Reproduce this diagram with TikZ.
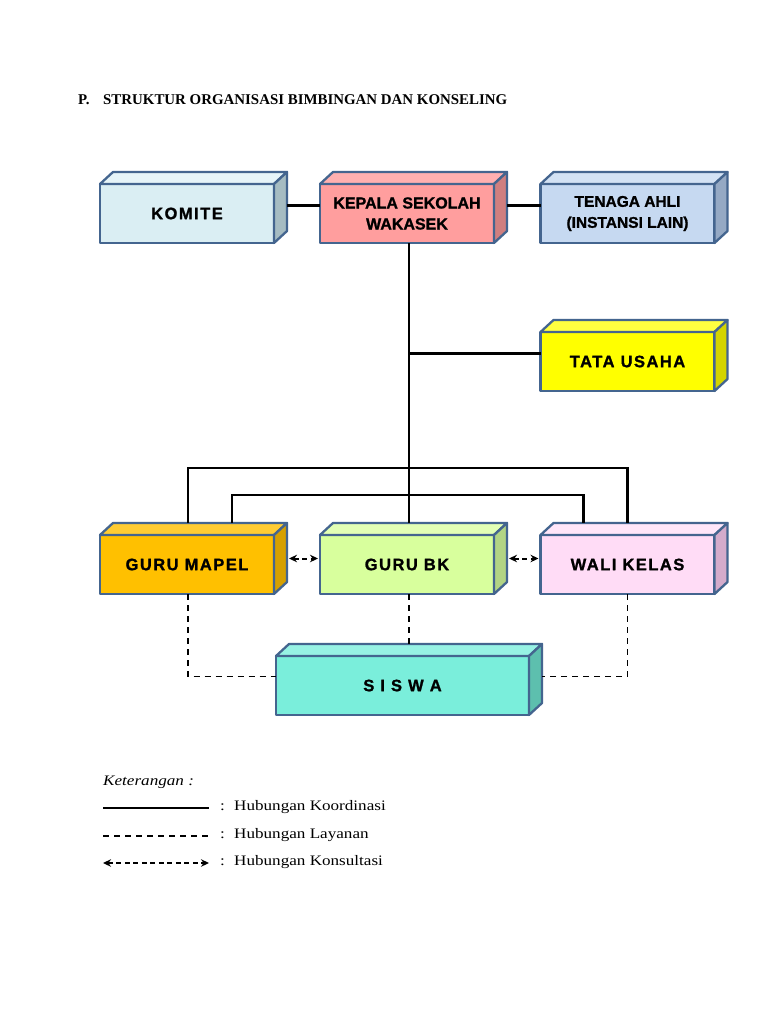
\documentclass[tikz,border=0pt]{standalone}
\usepackage{fontspec}
\setmainfont{Liberation Serif}
\newfontfamily\boxfont[LetterSpace=9,BoldFeatures={FakeBold=1.2}]{Liberation Sans}
\newfontfamily\boxfontn[BoldFeatures={FakeBold=1.2}]{Liberation Sans}
\newfontfamily\legfont[FakeStretch=1.18]{Liberation Serif}
\usetikzlibrary{arrows.meta,calc}
\definecolor{boxedge}{HTML}{44658F}
\definecolor{komF}{HTML}{DAEEF3}\definecolor{komT}{HTML}{E6F4F8}\definecolor{komS}{HTML}{A6BCC2}
\definecolor{kepF}{HTML}{FF9E9E}\definecolor{kepT}{HTML}{FFB0B0}\definecolor{kepS}{HTML}{D07F7F}
\definecolor{tenF}{HTML}{C6D9F1}\definecolor{tenT}{HTML}{D3E2F4}\definecolor{tenS}{HTML}{95A9C4}
\definecolor{tatF}{HTML}{FFFF00}\definecolor{tatT}{HTML}{FFFF40}\definecolor{tatS}{HTML}{D4D400}
\definecolor{mapF}{HTML}{FFC000}\definecolor{mapT}{HTML}{FFCC33}\definecolor{mapS}{HTML}{D6A000}
\definecolor{bkF}{HTML}{D8FF9D}\definecolor{bkT}{HTML}{E2FFB5}\definecolor{bkS}{HTML}{B2D484}
\definecolor{walF}{HTML}{FFDCF6}\definecolor{walT}{HTML}{FFE6F9}\definecolor{walS}{HTML}{D4ABCB}
\definecolor{sisF}{HTML}{7AEEDB}\definecolor{sisT}{HTML}{97F2E4}\definecolor{sisS}{HTML}{5DBFAE}
\tikzset{
  cubeedge/.style={draw=boxedge, line width=2.3pt, line join=round},
  cube/.style={cubeedge, minimum width=174pt, minimum height=59pt, inner sep=0pt, outer sep=0pt,
    align=center, font={\boxfont\bfseries\fontsize{16.5}{21}\selectfont}},
  cuben/.style={cube, font={\boxfontn\bfseries\fontsize{16}{21}\selectfont}},
  coord/.style={draw=black, line width=2.4pt},
  layan/.style={draw=black, line width=1.9pt, dash pattern=on 6pt off 5pt},
  konsul/.style={draw=black, line width=2pt, dash pattern=on 5pt off 3.5pt,
    {Stealth[length=8pt,width=7.5pt]}-{Stealth[length=8pt,width=7.5pt]}},
  legtext/.style={anchor=base west, inner sep=0pt, font={\legfont\fontsize{14.5}{17}\selectfont}},
}
\newcommand\cubefaces[3]{%
  \filldraw[cubeedge,fill=#2] (#1.north west) -- ++(13,-12) -- ([shift={(13,-12)}]#1.north east) -- (#1.north east) -- cycle;
  \filldraw[cubeedge,fill=#3] (#1.north east) -- ([shift={(13,-12)}]#1.north east) -- ([shift={(13,-12)}]#1.south east) -- (#1.south east) -- cycle;}
\begin{document}
\begin{tikzpicture}[x=1pt,y=-1pt]
\useasboundingbox (0,0) rectangle (768,1024);
\fill[white] (0,0) rectangle (768,1024);
% title
\node[anchor=base west, inner sep=0pt, font={\bfseries\fontsize{14.9}{17}\selectfont}] (tp) at (78,105) {P.};
\node[anchor=base west, inner sep=0pt, font={\bfseries\fontsize{14.9}{17}\selectfont}] (tt) at (103,105) {STRUKTUR ORGANISASI BIMBINGAN DAN KONSELING};
% boxes
\node[cube, fill=komF] (komite) at (187,213.5) {KOMITE};
\cubefaces{komite}{komT}{komS}
\node[cuben, fill=kepF] (kepala) at (407,213.5) {KEPALA SEKOLAH\\WAKASEK};
\cubefaces{kepala}{kepT}{kepS}
\node[cuben, fill=tenF, font={\boxfontn\bfseries\fontsize{15.5}{21}\selectfont}] (tenaga) at (627.5,213.5) {TENAGA AHLI\\(INSTANSI LAIN)};
\cubefaces{tenaga}{tenT}{tenS}
\node[cube, fill=tatF] (tata) at (627.5,361.5) {TATA USAHA};
\cubefaces{tata}{tatT}{tatS}
\node[cube, fill=mapF] (gurumapel) at (187,564.5) {GURU MAPEL};
\cubefaces{gurumapel}{mapT}{mapS}
\node[cube, fill=bkF] (gurubk) at (407,564.5) {GURU BK};
\cubefaces{gurubk}{bkT}{bkS}
\node[cube, fill=walF] (walikelas) at (627.5,564.5) {WALI KELAS};
\cubefaces{walikelas}{walT}{walS}
\node[cube, fill=sisF, minimum width=253pt] (siswa) at (402.5,685.5) {S I S W A};
\cubefaces{siswa}{sisT}{sisS}
% coordination lines
\coordinate (ks) at ([shift={(13,-8)}]komite.east);
\draw[coord] (ks) -- (ks -| kepala.west);
\coordinate (kps) at ([shift={(13,-8)}]kepala.east);
\draw[coord] (kps) -- (kps -| tenaga.west);
\coordinate (bkt) at ([shift={(2,-12)}]gurubk.north);
\draw[coord] ([shift={(2,0)}]kepala.south) -- (bkt);
\coordinate (ts) at ([shift={(0,-8)}]tata.west);
\draw[coord] (ts -| bkt) -- (ts);
\draw[coord] ([shift={(1,-12)}]gurumapel.north) -- ++(0,-55) -| ([shift={(0,-12)}]walikelas.north);
\draw[coord] ([shift={(45,-12)}]gurumapel.north) -- ++(0,-28) -| ([shift={(-44,-12)}]walikelas.north);
% service lines
\coordinate (sl) at ([shift={(0,-9)}]siswa.west);
\coordinate (sr) at ([shift={(13,-9)}]siswa.east);
\coordinate (st) at ([shift={(0,-12)}]siswa.north);
\draw[layan] ([shift={(1,0)}]gurumapel.south) |- (sl);
\draw[layan] (walikelas.south) |- (sr);
\draw[layan] ([shift={(2,0)}]gurubk.south) -- ([shift={(2,0)}]gurubk.south |- st);
% consultation arrows
\coordinate (a1) at ([shift={(15,-6)}]gurumapel.east);
\draw[konsul, shorten >=2pt] (a1) -- (a1 -| gurubk.west);
\coordinate (a2) at ([shift={(15,-6)}]gurubk.east);
\draw[konsul, shorten >=2pt] (a2) -- (a2 -| walikelas.west);
% legend
\node[legtext, font={\legfont\itshape\fontsize{14.5}{17}\selectfont}] (ket) at (103,785) {Keterangan :};
\coordinate (l1a) at (103,808); \coordinate (l1b) at (209,808);
\coordinate (l2a) at (103,836); \coordinate (l2b) at (209,836);
\coordinate (l3a) at (103,863); \coordinate (l3b) at (209,863);
\draw[coord] (l1a) -- (l1b);
\draw[draw=black, line width=1.4pt, dash pattern=on 6pt off 5pt] (l2a) -- (l2b);
\draw[konsul] (l3a) -- (l3b);
\node[legtext] (c1) at (220,810) {:};
\node[legtext] (c2) at (220,838) {:};
\node[legtext] (c3) at (220,865) {:};
\node[legtext] (t1) at (234,810) {Hubungan Koordinasi};
\node[legtext] (t2) at (234,838) {Hubungan Layanan};
\node[legtext] (t3) at (234,865) {Hubungan Konsultasi};
\end{tikzpicture}
\end{document}
